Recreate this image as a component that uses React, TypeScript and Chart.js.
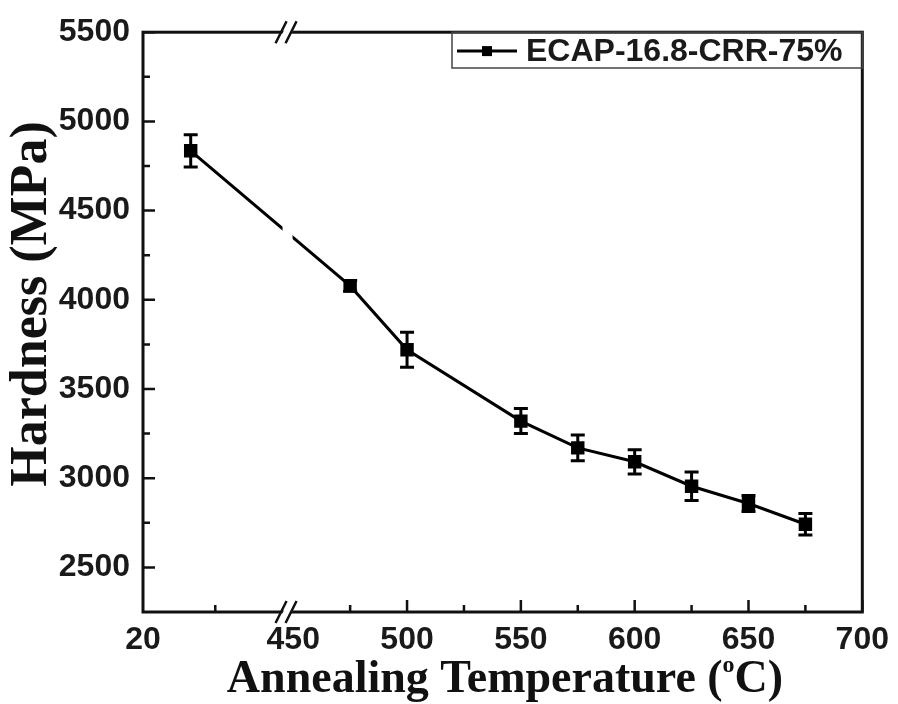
import React, { useEffect, useRef } from "react";
import { Chart, registerables } from "chart.js";

Chart.register(...registerables);

// ---------- data ----------
const seriesLabel = "ECAP-16.8-CRR-75%";
const temperatures = [23.3, 475, 500, 550, 575, 600, 625, 650, 675];
const hardness = [4835, 4078, 3720, 3320, 3170, 3092, 2955, 2858, 2742];
const hardnessError = [90, 30, 98, 70, 72, 68, 80, 45, 60];

const xTickValues = [20, 450, 500, 550, 600, 650, 700];
const xMinorTicks = [25, 475, 525, 575, 625, 675];
const yTickValues = [2500, 3000, 3500, 4000, 4500, 5000, 5500];
const yMinorTicks = [2750, 3250, 3750, 4250, 4750, 5250];
const yMin = 2250;
const yMax = 5500;

const xTitleMain = "Annealing Temperature (";
const xTitleSup = "o";
const xTitleEnd = "C)";
const yTitle = "Hardness (MPa)";

// axis break: left segment 20..30 is compressed before the break at 447.5
const leftSegStart = 20;
const leftSegEnd = 30;
const breakAt = 447.5;
const axisMin = 384;
const axisMax = 700;
const leftScale = (breakAt - axisMin) / (leftSegEnd - leftSegStart);

function toAxis(t: number): number {
  return t <= leftSegEnd ? breakAt - (leftSegEnd - t) * leftScale : t;
}

const SANS = "'Liberation Sans', Arial, sans-serif";
const SERIF = "'Liberation Serif', 'Times New Roman', serif";

const decorPlugin = {
  id: "decor",
  afterDraw(chart: any) {
    const ctx: CanvasRenderingContext2D = chart.ctx;
    const ca = chart.chartArea;
    const xs = chart.scales.x;
    const ys = chart.scales.y;
    ctx.save();

    // gap in the line at the axis break
    const bx = xs.getPixelForValue(breakAt);
    ctx.fillStyle = "#fff";
    ctx.fillRect(bx - 5, ca.top + 4, 10, ca.bottom - ca.top - 8);

    // error bars
    ctx.strokeStyle = "#000";
    ctx.lineWidth = 3;
    ctx.lineCap = "butt";
    temperatures.forEach((t, i) => {
      const px = xs.getPixelForValue(toAxis(t));
      const top = ys.getPixelForValue(hardness[i] + hardnessError[i]);
      const bot = ys.getPixelForValue(hardness[i] - hardnessError[i]);
      ctx.beginPath();
      ctx.moveTo(px, top);
      ctx.lineTo(px, bot);
      ctx.moveTo(px - 7, top);
      ctx.lineTo(px + 7, top);
      ctx.moveTo(px - 7, bot);
      ctx.lineTo(px + 7, bot);
      ctx.stroke();
    });

    // frame
    ctx.strokeStyle = "#111";
    ctx.lineWidth = 3;
    ctx.strokeRect(ca.left, ca.top, ca.right - ca.left, ca.bottom - ca.top);

    // inward ticks
    ctx.lineWidth = 2.5;
    ctx.beginPath();
    yTickValues.forEach((v) => {
      const py = ys.getPixelForValue(v);
      ctx.moveTo(ca.left, py);
      ctx.lineTo(ca.left + 12, py);
    });
    yMinorTicks.forEach((v) => {
      const py = ys.getPixelForValue(v);
      ctx.moveTo(ca.left, py);
      ctx.lineTo(ca.left + 7, py);
    });
    xTickValues.forEach((v) => {
      const px = xs.getPixelForValue(toAxis(v));
      if (v === 450 || v === leftSegStart) return;
      ctx.moveTo(px, ca.bottom);
      ctx.lineTo(px, ca.bottom - 12);
    });
    xMinorTicks.forEach((v) => {
      const px = xs.getPixelForValue(toAxis(v));
      ctx.moveTo(px, ca.bottom);
      ctx.lineTo(px, ca.bottom - 7);
    });
    ctx.stroke();

    // break marks on top and bottom axes
    [ca.top, ca.bottom].forEach((ay) => {
      ctx.fillStyle = "#fff";
      ctx.beginPath();
      ctx.moveTo(bx - 7, ay + 5);
      ctx.lineTo(bx - 2, ay - 5);
      ctx.lineTo(bx + 7, ay - 5);
      ctx.lineTo(bx + 2, ay + 5);
      ctx.closePath();
      ctx.fill();
      ctx.strokeStyle = "#111";
      ctx.lineWidth = 2.5;
      ctx.beginPath();
      ctx.moveTo(bx - 12, ay + 11);
      ctx.lineTo(bx - 1, ay - 11);
      ctx.moveTo(bx - 2, ay + 11);
      ctx.lineTo(bx + 9, ay - 11);
      ctx.stroke();
    });

    // legend
    const lx0 = 452;
    const ly0 = ca.top;
    const ly1 = 68;
    ctx.strokeStyle = "#444";
    ctx.lineWidth = 1.5;
    ctx.strokeRect(lx0, ly0, ca.right - lx0, ly1 - ly0);
    const lyc = (ly0 + ly1) / 2 + 1;
    ctx.strokeStyle = "#000";
    ctx.lineWidth = 3;
    ctx.beginPath();
    ctx.moveTo(457, lyc);
    ctx.lineTo(517, lyc);
    ctx.stroke();
    ctx.fillStyle = "#000";
    ctx.fillRect(482, lyc - 5, 10, 10);
    ctx.fillStyle = "#1a1a1a";
    ctx.font = `bold 32px ${SANS}`;
    ctx.textAlign = "left";
    ctx.textBaseline = "middle";
    ctx.fillText(chart.data.datasets[0].label, 526, lyc + 1);

    // y title
    ctx.save();
    ctx.translate(33, 304);
    ctx.rotate(-Math.PI / 2);
    ctx.font = `bold 52px ${SERIF}`;
    ctx.textAlign = "center";
    ctx.textBaseline = "middle";
    ctx.fillStyle = "#111";
    ctx.fillText(yTitle, 0, 0);
    ctx.restore();

    // x title with superscript
    ctx.fillStyle = "#111";
    ctx.textBaseline = "alphabetic";
    ctx.textAlign = "left";
    const mainFont = `bold 46px ${SERIF}`;
    const supFont = `bold 24px ${SERIF}`;
    ctx.font = mainFont;
    const w1 = ctx.measureText(xTitleMain).width;
    const w3 = ctx.measureText(xTitleEnd).width;
    ctx.font = supFont;
    const w2 = ctx.measureText(xTitleSup).width;
    const total = w1 + w2 + w3;
    const cx = 505;
    let x = cx - total / 2;
    const base = 692;
    ctx.font = mainFont;
    ctx.fillText(xTitleMain, x, base);
    x += w1;
    ctx.font = supFont;
    ctx.fillText(xTitleSup, x, base - 20);
    x += w2;
    ctx.font = mainFont;
    ctx.fillText(xTitleEnd, x, base);

    ctx.restore();
  },
};

export default function App() {
  const canvasRef = useRef<HTMLCanvasElement | null>(null);

  useEffect(() => {
    if (!canvasRef.current) return;
    const points = temperatures.map((t, i) => ({ x: toAxis(t), y: hardness[i] }));
    const chart = new Chart(canvasRef.current, {
      type: "line",
      data: {
        datasets: [
          {
            label: seriesLabel,
            data: points,
            borderColor: "#000",
            backgroundColor: "#000",
            borderWidth: 3,
            pointStyle: "rect",
            pointRadius: 9.5,
            pointBorderWidth: 0,
            tension: 0,
          },
        ],
      },
      options: {
        animation: false,
        responsive: false,
        devicePixelRatio: 1,
        layout: { padding: { left: 0, top: 27, right: 33, bottom: 0 } },
        plugins: { legend: { display: false }, tooltip: { enabled: false } },
        scales: {
          x: {
            type: "linear",
            min: axisMin,
            max: axisMax,
            grid: { display: false, drawTicks: false },
            border: { display: false },
            afterBuildTicks: (scale: any) => {
              scale.ticks = xTickValues.map((v) => ({ value: toAxis(v) }));
            },
            afterFit: (scale: any) => {
              scale.height = 92;
            },
            ticks: {
              autoSkip: false,
              maxRotation: 0,
              padding: 9,
              color: "#1a1a1a",
              font: { family: SANS, size: 32, weight: "bold" },
              callback: (_v: any, index: number) => String(xTickValues[index]),
            },
          },
          y: {
            type: "linear",
            min: yMin,
            max: yMax,
            grid: { display: false, drawTicks: false },
            border: { display: false },
            afterBuildTicks: (scale: any) => {
              scale.ticks = yTickValues.map((v) => ({ value: v }));
            },
            afterFit: (scale: any) => {
              scale.width = 143;
            },
            ticks: {
              padding: 13,
              color: "#1a1a1a",
              font: { family: SANS, size: 32, weight: "bold" },
              callback: (v: any) => String(v),
            },
          },
        },
      },
      plugins: [decorPlugin],
    });
    return () => chart.destroy();
  }, []);

  return (
    <div style={{ position: "fixed", left: 0, top: 0, width: 898, height: 704, background: "#fff" }}>
      <canvas ref={canvasRef} width={898} height={704} style={{ width: 898, height: 704 }} />
    </div>
  );
}
